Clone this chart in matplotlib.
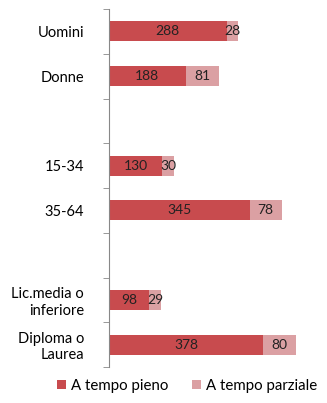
import matplotlib
matplotlib.use("Agg")
import matplotlib.pyplot as plt
import numpy as np

plt.rcParams['font.family'] = ['Lato', 'DejaVu Sans']

categories = ["Uomini", "Donne", "", "15-34", "35-64", "", "Lic.media o\ninferiore", "Diploma o\nLaurea"]
pieno = [288, 188, None, 130, 345, None, 98, 378]
parziale = [28, 81, None, 30, 78, None, 29, 80]

col_pieno = "#C84B4E"
col_parziale = "#DBA0A3"

fig = plt.figure(figsize=(3.27, 4.03), dpi=100)
ax = fig.add_axes([109/327, 1 - 367/403, (320 - 109)/327, (367 - 9)/403])

n = len(categories)
y = np.arange(n)
h = 0.45
for i in range(n):
    if pieno[i] is None:
        continue
    ax.barh(y[i], pieno[i], height=h, color=col_pieno, label="A tempo pieno" if i == 0 else None)
    ax.barh(y[i], parziale[i], left=pieno[i], height=h, color=col_parziale,
            label="A tempo parziale" if i == 0 else None)
    ax.text(pieno[i] / 2, y[i], str(pieno[i]), ha="center", va="center", fontsize=10, color="#222222")
    ax.text(pieno[i] + parziale[i] / 2, y[i], str(parziale[i]), ha="center", va="center",
            fontsize=10, color="#222222")

ax.set_ylim(n - 0.5, -0.5)
ax.set_xlim(0, 517)
ax.set_yticks(y)
ax.set_yticklabels(categories, fontsize=10.5, linespacing=1.2)
ax.set_yticks(np.arange(-0.5, n, 1.0), minor=True)
ax.tick_params(axis="y", which="major", length=0, pad=18)
ax.tick_params(axis="y", which="minor", length=4, color="#888888", direction="out")
ax.xaxis.set_visible(False)
for s in ["top", "right", "bottom"]:
    ax.spines[s].set_visible(False)
ax.spines["left"].set_color("#888888")
ax.spines["left"].set_linewidth(0.8)

handles, labels = ax.get_legend_handles_labels()
fig.legend(handles, labels, loc="center", bbox_to_anchor=(187/327, 1 - 386/403), ncol=2,
           frameon=False, fontsize=10.8, handlelength=0.6, handleheight=0.6,
           handletextpad=0.3, columnspacing=1.6, borderpad=0.2)

fig.savefig("out.png", dpi=100, facecolor="white")
